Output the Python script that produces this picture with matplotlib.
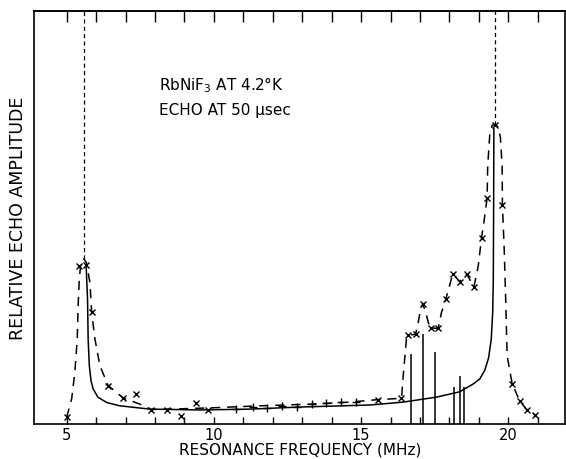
import numpy as np
import matplotlib
matplotlib.use('Agg')
import matplotlib.pyplot as plt

plt.rcParams['font.family'] = ['DejaVu Sans']

# measured echo amplitudes (x markers)
x_freq = [5.00, 5.43, 5.66, 5.85, 6.41, 6.92, 7.35, 7.86, 8.40, 8.87, 9.38, 9.81,
          15.56, 16.34, 16.60, 16.85, 17.09, 17.36, 17.62, 17.88, 18.11, 18.35,
          18.59, 18.83, 19.09, 19.28, 19.54, 19.80, 20.13, 20.39, 20.64, 20.90]
x_amp = [1.6, 38.3, 38.5, 27.0, 9.3, 6.3, 7.3, 3.5, 3.5, 2.0, 5.1, 3.4,
         5.9, 6.2, 21.5, 21.7, 29.1, 23.2, 23.2, 30.3, 36.3, 34.5,
         36.3, 33.2, 45.0, 54.7, 72.5, 53.1, 9.8, 5.5, 3.4, 2.2]

# (+ markers)
p_freq = [10.75, 11.32, 11.79, 12.33, 12.81, 13.32, 13.80, 14.31, 14.82]
p_amp = [3.6, 4.2, 3.9, 4.4, 4.2, 4.8, 5.1, 5.4, 5.4]

# dashed curve through the data
d_freq = [5.00, 5.17, 5.28, 5.36, 5.39, 5.43, 5.49, 5.59, 5.67, 5.79, 5.85, 5.96,
          6.13, 6.41, 6.92, 7.49, 7.86, 8.51, 9.87, 11.56, 13.26, 14.62, 15.56,
          16.34, 16.38, 16.43, 16.49, 16.54, 16.60, 16.85, 16.94, 17.02, 17.09,
          17.20, 17.28, 17.36, 17.62, 17.73, 17.88, 18.02, 18.11, 18.35, 18.59,
          18.83, 18.98, 19.09, 19.17, 19.28, 19.30, 19.37, 19.45, 19.54, 19.64,
          19.73, 19.79, 19.80, 19.86, 19.91, 19.96, 20.13, 20.39, 20.64, 20.90]
d_amp = [1.6, 6.1, 12.6, 20.6, 28.6, 35.1, 39.5, 40.0, 39.0, 34.3, 27.0, 20.6,
         14.1, 9.3, 6.3, 4.8, 3.5, 3.6, 3.9, 4.4, 4.8, 5.3, 5.9,
         6.2, 6.9, 11.7, 16.5, 20.6, 21.5, 21.7, 24.6, 27.8, 29.1,
         27.0, 24.6, 23.2, 23.2, 27.0, 30.3, 33.9, 36.3, 34.5, 36.3,
         33.2, 38.3, 45.0, 48.8, 54.7, 62.5, 70.0, 72.3, 72.5, 72.0,
         69.5, 62.5, 53.1, 42.4, 30.3, 16.5, 9.8, 5.5, 3.4, 2.2]

# solid (calculated) curve
s_freq = [5.66, 5.71, 5.73, 5.77, 5.83, 5.90, 6.06, 6.36, 6.81, 7.83, 9.53, 11.22,
          12.92, 15.30, 16.43, 17.56, 18.35, 18.81, 19.03, 19.20, 19.33, 19.42,
          19.47, 19.49, 19.50, 19.51]
s_amp = [38.5, 30.3, 20.6, 14.1, 10.4, 8.5, 6.5, 5.2, 4.4, 3.6, 3.4, 3.6,
         4.1, 4.6, 5.3, 6.5, 7.8, 9.7, 10.9, 13.0, 16.0, 20.5,
         27.0, 35.0, 50.0, 71.5]

# singularities (fine dashed verticals)
sing_freq = [5.60, 19.54]
sing_amp = [40.0, 72.5]

# stick spectrum
stick_freq = [16.69, 17.09, 17.51, 18.17, 18.35, 18.49]
stick_amp = [16.9, 21.8, 17.4, 8.9, 11.7, 8.9]

fig = plt.figure(figsize=(5.66, 4.60), dpi=100)
ax = fig.add_axes([0.060, 0.0761, 0.939, 0.8978])

ax.plot(d_freq, d_amp, color='black', lw=1.1, linestyle=(0, (6.0, 4.5)))
ax.plot(s_freq, s_amp, color='black', lw=1.1)
for f, a in zip(sing_freq, sing_amp):
    ax.plot([f, f], [a, 100], color='black', lw=0.9, linestyle=(0, (3.3, 2.6)))
ax.vlines(stick_freq, 0, stick_amp, color='black', lw=1.1)
ax.plot(x_freq, x_amp, 'x', color='black', ms=5, mew=1.0)
ax.plot(p_freq, p_amp, '+', color='black', ms=5.5, mew=1.0)

ax.text(8.13, 81.1, 'RbNiF$_3$ AT 4.2°K', fontsize=11, va='baseline')
ax.text(8.13, 75.1, 'ECHO AT 50 μsec', fontsize=11, va='baseline')

ax.set_xlim(3.89, 21.94)
ax.set_ylim(0, 100)
ax.set_xticks([5, 10, 15, 20])
ax.set_xticks(np.arange(5, 22), minor=True)
ax.set_yticks([])
ax.tick_params(axis='x', which='both', direction='in', length=5, width=1.0,
               labelsize=10.5, pad=2)
sec = ax.secondary_xaxis('top')
sec.set_xticks(np.arange(5, 22))
sec.tick_params(direction='in', length=8, width=1.0, labeltop=False)
for s in ax.spines.values():
    s.set_linewidth(1.2)
sec.spines['top'].set_linewidth(1.2)

ax.set_xlabel('RESONANCE FREQUENCY (MHz)', fontsize=11, labelpad=0)
ax.set_ylabel('RELATIVE ECHO AMPLITUDE', fontsize=12.5, labelpad=5)

fig.savefig('out.png', dpi=100)
